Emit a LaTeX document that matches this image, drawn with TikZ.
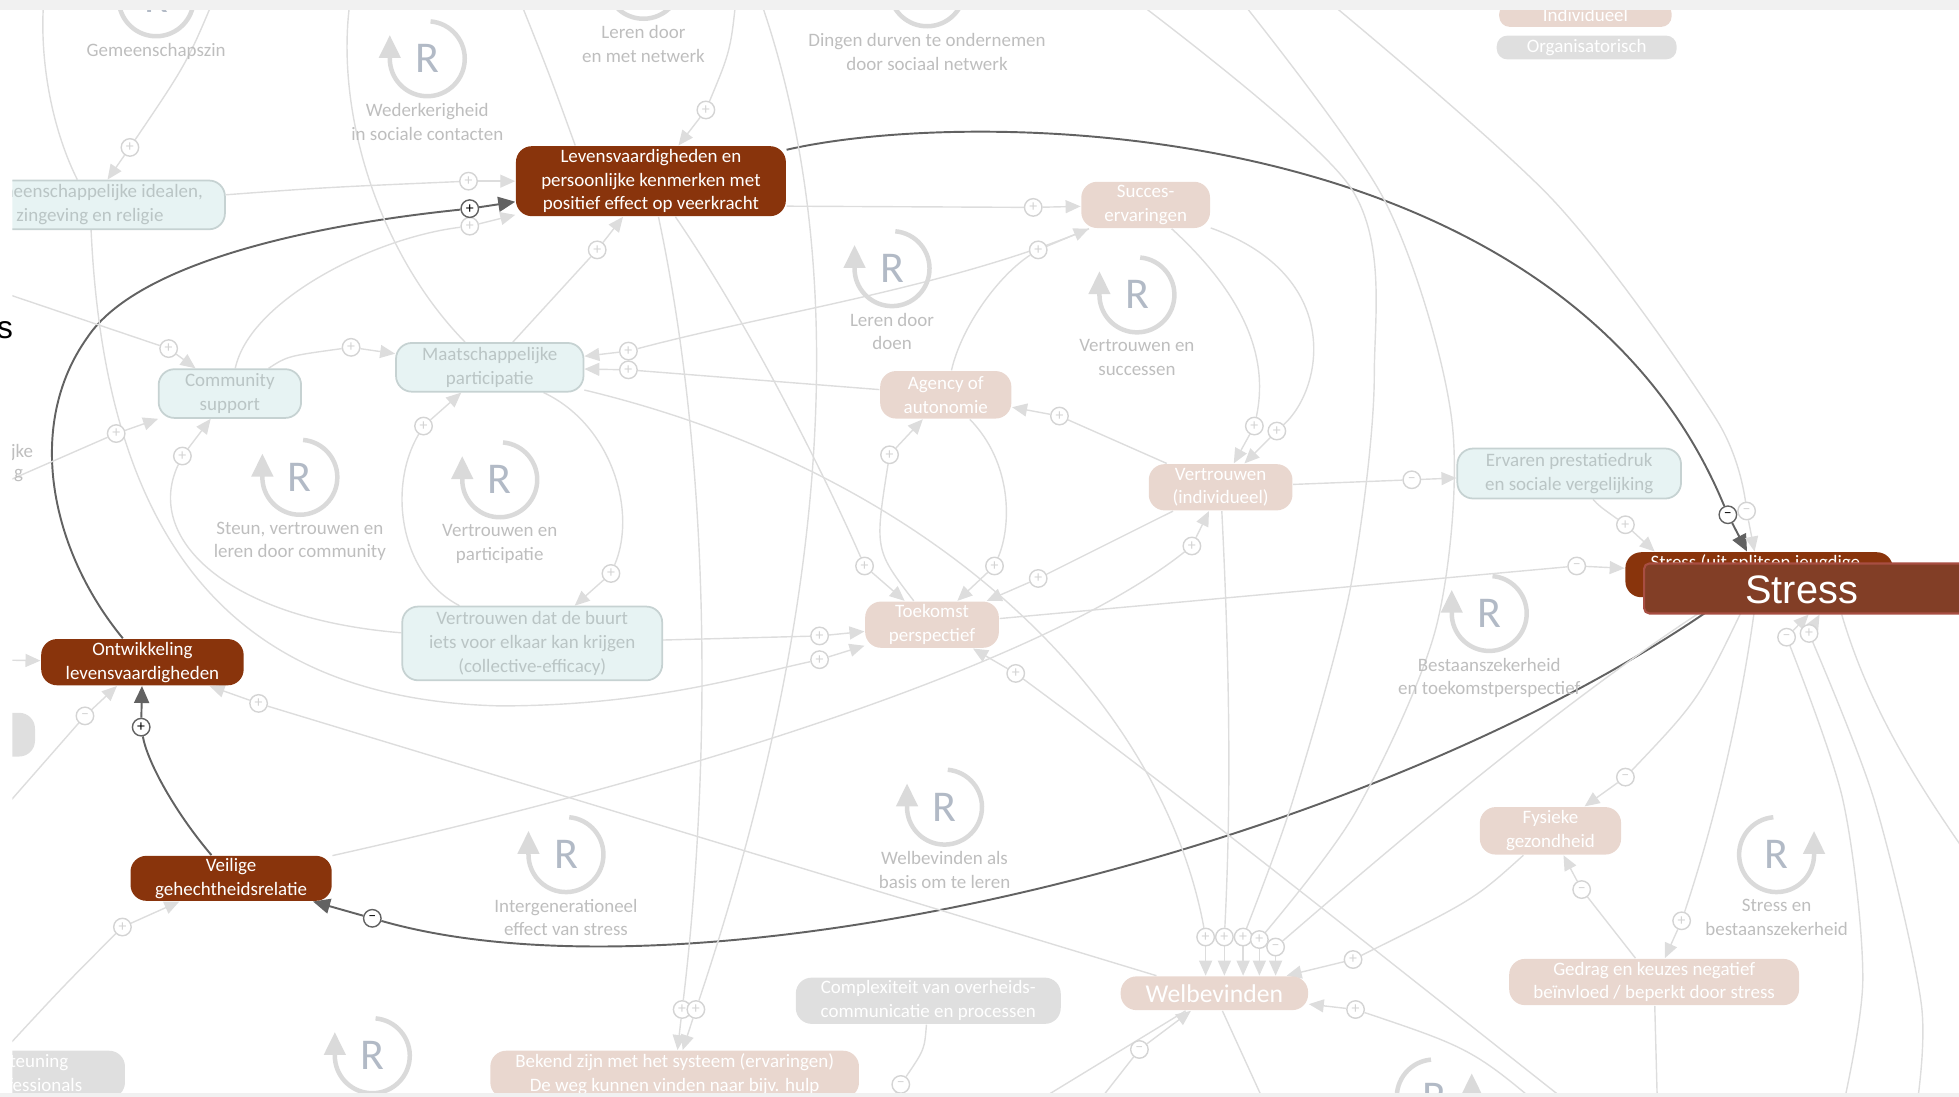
\documentclass[tikz,border=0pt]{standalone}
\usepackage{fontspec}
\setmainfont{Carlito}
\newfontfamily\stressfont{Liberation Sans}
\usetikzlibrary{arrows.meta}

\definecolor{kern}{RGB}{137,52,12}
\definecolor{stressvak}{RGB}{130,62,38}
\definecolor{stressrand}{RGB}{168,78,66}
\definecolor{indiv}{RGB}{233,215,207}
\definecolor{gemfill}{RGB}{231,243,243}
\definecolor{gemrand}{RGB}{198,210,210}
\definecolor{gemtekst}{RGB}{186,197,197}
\definecolor{orgfill}{RGB}{223,223,223}
\definecolor{lijn}{RGB}{221,221,221}
\definecolor{polrand}{RGB}{212,212,212}
\definecolor{donker}{RGB}{98,98,98}
\definecolor{lus}{RGB}{218,218,218}
\definecolor{lusR}{RGB}{178,186,198}
\definecolor{lustekst}{RGB}{190,190,190}
\definecolor{balk}{RGB}{241,241,241}

\pgfdeclarelayer{achter}
\pgfsetlayers{achter,main}

\tikzset{
  basis/.style={rounded corners=4.5pt, inner sep=0pt, align=center, font=\fontsize{5.4}{6.76}\selectfont},
  kernnode/.style={basis, fill=kern, text=white},
  indivnode/.style={basis, fill=indiv, text=white},
  gemnode/.style={basis, fill=gemfill, draw=gemrand, line width=0.5pt, text=gemtekst},
  orgnode/.style={basis, fill=orgfill, text=white},
  pool/.style={circle, draw=polrand, fill=white, line width=0.4pt, inner sep=0pt, minimum size=0.175cm, text=polrand, font=\fontsize{4.5}{4.5}\selectfont},
  pooldonker/.style={pool, draw=donker, text=black},
  verband/.style={draw=lijn, line width=0.4pt},
  verbandpijl/.style={verband, -{Triangle[length=0.15cm, width=0.13cm]}},
  verbanddonker/.style={draw=donker, line width=0.55pt},
  pijldonker/.style={verbanddonker, -{Triangle[length=0.17cm, width=0.15cm]}},
  lusring/.style={draw=lus, line width=0.045cm, -{Triangle[length=0.23cm, width=0.21cm]}},
  lusletter/.style={text=lusR, font=\fontsize{12.5}{12.5}\selectfont, inner sep=0pt},
  luslabel/.style={text=lustekst, align=center, inner sep=0pt, font=\fontsize{5.4}{6.76}\selectfont}
}

\begin{document}
\begin{tikzpicture}[x=0.0125cm, y=-0.0125cm]
\useasboundingbox (0,0) rectangle (1568,878);

\begin{scope}
\clip (10,8) rectangle (1568,875);

% R-lussen
\foreach \x/\y/\naam in {125/-1/{Gemeenschapszin}, 342/47/{Wederkerigheid\\in sociale contacten},
    515/-15/{Leren door\\en met netwerk}, 742/-9/{Dingen durven te ondernemen\\door sociaal netwerk},
    714/215/{Leren door\\doen}, 910/236/{Vertrouwen en\\successen},
    240/382/{Steun, vertrouwen en\\leren door community}, 400/384/{Vertrouwen en\\participatie},
    1192/491/{Bestaanszekerheid\\en toekomstperspectief}, 756/646/{Welbevinden als\\basis om te leren},
    453/684/{Intergenerationeel\\effect van stress}, 298/845/{}}{
  \draw[lusring] (\x,\y) ++(-85:30) arc[start angle=-85, end angle=180, radius=30] -- ++(0,-19);
  \node[lusletter] (R-\x) at (\x,\y) {R};
  \node[luslabel, anchor=north] (RL-\x) at (\x,\y+35) {\naam};
}
\foreach \x/\y/\naam in {1422/684/{Stress en\\bestaanszekerheid}, 1148/878/{}}{
  \draw[lusring] (\x,\y) ++(-95:30) arc[start angle=-95, end angle=-360, radius=30] -- ++(0,-19);
  \node[lusletter] (R-\x) at (\x,\y) {R};
  \node[luslabel, anchor=north] (RL-\x) at (\x,\y+35) {\naam};
}

% factoren
\node[kernnode, minimum width=2.7cm, minimum height=0.7cm] (lev) at (521,145) {Levensvaardigheden en\\persoonlijke kenmerken met\\positief effect op veerkracht};
\node[kernnode, minimum width=2.025cm, minimum height=0.4625cm] (ontw) at (114,530) {Ontwikkeling\\levensvaardigheden};
\node[kernnode, minimum width=2.0125cm, minimum height=0.45cm] (veilig) at (185,703) {Veilige\\gehechtheidsrelatie};

\node[indivnode, rounded corners=3pt, minimum width=1.725cm, minimum height=0.2375cm] (indiv) at (1269,12) {Individueel};
\node[orgnode, rounded corners=3pt, minimum width=1.8cm, minimum height=0.2375cm] (org) at (1270,38) {Organisatorisch};
\node[indivnode, minimum width=1.2875cm, minimum height=0.4625cm] (succes) at (917,164) {Succes-\\ervaringen};
\node[indivnode, minimum width=1.3125cm, minimum height=0.475cm] (agency) at (757,316) {Agency of\\autonomie};
\node[indivnode, minimum width=1.4375cm, minimum height=0.4625cm] (vertrouwen) at (977,390) {Vertrouwen\\(individueel)};
\node[indivnode, minimum width=1.3375cm, minimum height=0.4625cm] (toekomst) at (746,500) {Toekomst\\perspectief};
\node[indivnode, minimum width=1.4125cm, minimum height=0.475cm] (fysiek) at (1241,665) {Fysieke\\gezondheid};
\node[indivnode, minimum width=2.9cm, minimum height=0.4625cm] (gedrag) at (1324,786) {Gedrag en keuzes negatief\\beïnvloed / beperkt door stress};
\node[indivnode, minimum width=1.875cm, minimum height=0.3375cm, font=\fontsize{7.3}{8}\selectfont] (welb) at (972,795) {Welbevinden};
\node[indivnode, minimum width=3.6875cm, minimum height=0.475cm] (bekend) at (540,860) {Bekend zijn met het systeem (ervaringen)\\De weg kunnen vinden naar bijv. hulp};

\node[orgnode, minimum width=2.65cm, minimum height=0.4625cm] (complex) at (743,801) {Complexiteit van overheids-\\communicatie en processen};
\node[orgnode, minimum width=2.275cm, minimum height=0.475cm] (onderst) at (9,860) {Ondersteuning\\door professionals};
\node[orgnode, minimum width=1.7cm, minimum height=0.4375cm] (grijsLinks) at (-40,588) {};

\node[gemnode, minimum width=2.7cm, minimum height=0.4875cm] (gem) at (72,164) {Gemeenschappelijke idealen,\\zingeving en religie};
\node[gemnode, minimum width=1.425cm, minimum height=0.4875cm] (community) at (184,315) {Community\\support};
\node[gemnode, minimum width=1.875cm, minimum height=0.4875cm] (maatsch) at (392,294) {Maatschappelijke\\participatie};
\node[gemnode, minimum width=2.6cm, minimum height=0.7375cm] (buurt) at (426,515) {Vertrouwen dat de buurt\\iets voor elkaar kan krijgen\\(collective-efficacy)};
\node[gemnode, minimum width=2.2375cm, minimum height=0.5cm] (ervaren) at (1256,379) {Ervaren prestatiedruk\\en sociale vergelijking};

\node[luslabel, anchor=east] (restA) at (27,362) {jke};
\node[luslabel, anchor=east] (restB) at (19,381) {g};

% polariteiten
\node[pool] (p05) at (375,145) {+};
\node[pool] (p06) at (376,181) {+};
\node[pool] (p07) at (565,88) {+};
\node[pool] (p08) at (478,200) {+};
\node[pool] (p09) at (104,118) {+};
\node[pool] (p10) at (135,279) {+};
\node[pool] (p11) at (281,278) {+};
\node[pool] (p12) at (93,347) {+};
\node[pool] (p13) at (146,365) {+};
\node[pool] (p14) at (339,341) {+};
\node[pool] (p15) at (489,459) {+};
\node[pool] (p16) at (503,281) {+};
\node[pool] (p17) at (503,296) {+};
\node[pool] (p18) at (827,166) {+};
\node[pool] (p19) at (831,200) {+};
\node[pool] (p20) at (712,364) {+};
\node[pool] (p21) at (848,333) {+};
\node[pool] (p22) at (692,453) {+};
\node[pool] (p23) at (796,453) {+};
\node[pool] (p24) at (831,463) {+};
\node[pool] (p25) at (656,509) {+};
\node[pool] (p26) at (656,528) {+};
\node[pool] (p27) at (813,539) {+};
\node[pool] (p28) at (954,437) {+};
\node[pool] (p29) at (1004,341) {+};
\node[pool] (p30) at (1022,345) {+};
\node[pool] (p31) at (1130,384) {–};
\node[pool] (p32) at (1301,420) {+};
\node[pool] (p33) at (1398,409) {–};
\node[pool] (p34) at (1262,453) {–};
\node[pool] (p35) at (1430,510) {–};
\node[pool] (p36) at (1448,507) {+};
\node[pool] (p37) at (1301,622) {–};
\node[pool] (p38) at (1266,712) {–};
\node[pool] (p39) at (1346,737) {+};
\node[pool] (p40) at (1083,768) {+};
\node[pool] (p41) at (1085,808) {+};
\node[pool] (p42) at (965,750) {+};
\node[pool] (p43) at (980,750) {+};
\node[pool] (p44) at (995,750) {+};
\node[pool] (p45) at (1008,752) {+};
\node[pool] (p46) at (1021,758) {–};
\node[pool] (p47) at (912,840) {–};
\node[pool] (p48) at (207,563) {+};
\node[pool] (p49) at (68,573) {–};
\node[pool] (p50) at (98,742) {+};
\node[pool] (p51) at (546,808) {+};
\node[pool] (p52) at (557,808) {+};
\node[pool] (p53) at (721,868) {–};
\node[pooldonker] (p01) at (376,167) {+};
\node[pooldonker] (p02) at (113,582) {+};
\node[pooldonker] (p03) at (298,735) {–};
\node[pooldonker] (p04) at (1383,412) {–};

% stress
\node[kernnode, minimum width=2.675cm, minimum height=0.45cm] (stressKern) at (1408,460) {};
\node[text=white, inner sep=0pt, font=\fontsize{5.4}{6.76}\selectfont] (stressKernTekst) at (1405,451) {Stress (uit splitsen jeugdige};
\node[draw=stressrand, fill=stressvak, line width=0.6pt, rounded corners=1.5pt, inner sep=0pt, minimum width=3.8cm, minimum height=0.5cm] (stress) at (1468,471) {};
\node[text=white, inner sep=0pt, font=\stressfont\fontsize{11.3}{12}\selectfont] (stressTekst) at (1442,472) {Stress};
\end{scope}

% eindpunten buiten beeld
\coordinate (tGem) at (36,-10);
\coordinate (tGemIn) at (175,-10);
\coordinate (tMaat) at (282,-10);
\coordinate (tLev) at (412,-10);
\coordinate (tNetwerk) at (590,-10);
\coordinate (tBekend) at (605,-10);
\coordinate (tBoog) at (895,-10);
\coordinate (tWelbA) at (985,-10);
\coordinate (tStressA) at (1050,-10);
\coordinate (lCommA) at (-10,230);
\coordinate (lCommB) at (-10,392);
\coordinate (lOntwA) at (-20,528);
\coordinate (lOntwB) at (-10,662);
\coordinate (lVeilig) at (-10,855);
\coordinate (bWelbA) at (865,900);
\coordinate (bWelbB) at (1250,900);
\coordinate (bWelbC) at (800,900);
\coordinate (bWelbD) at (1020,900);
\coordinate (bComplex) at (705,895);
\coordinate (bGedrag) at (1327,900);
\coordinate (bStressA) at (1472,900);
\coordinate (bStressB) at (1532,900);
\coordinate (rStress) at (1600,720);
\coordinate (tToekomst) at (1290,910);

\begin{pgfonlayer}{achter}
\begin{scope}
\clip (10,8) rectangle (1568,875);
% donkere lus
\draw[verbanddonker] (ontw) .. controls (40,440) and (20,340) .. (70,270) .. controls (110,210) and (250,180) .. (p01);
\draw[pijldonker] (p01) -- (lev);
\draw[verbanddonker] (veilig) .. controls (140,650) and (118,610) .. (p02);
\draw[pijldonker] (p02) -- (ontw);
\draw[verbanddonker] (stressKern) .. controls (1100,680) and (560,810) .. (p03);
\draw[pijldonker] (p03) -- (veilig);
\draw[verbanddonker] (lev) .. controls (780,85) and (1250,90) .. (p04);
\draw[pijldonker] (p04) -- (stressKern);

% overige verbanden
\draw[verband] (gem) .. controls (260,150) .. (p05);
\draw[verbandpijl] (p05) -- (lev);
\draw[verband] (community) .. controls (200,240) and (300,190) .. (p06);
\draw[verbandpijl] (p06) -- (lev);
\draw[verband] (tNetwerk) .. controls (585,40) .. (p07);
\draw[verbandpijl] (p07) -- (lev);
\draw[verband] (maatsch) -- (p08);
\draw[verbandpijl] (p08) -- (lev);
\draw[verband] (tGemIn) .. controls (150,50) .. (p09);
\draw[verbandpijl] (p09) -- (gem);
\draw[verband] (gem) .. controls (40,100) and (30,40) .. (tGem);
\draw[verband] (lCommA) -- (p10);
\draw[verbandpijl] (p10) -- (community);
\draw[verband] (community) .. controls (230,285) .. (p11);
\draw[verbandpijl] (p11) -- (maatsch);
\draw[verband] (lCommB) -- (p12);
\draw[verbandpijl] (p12) -- (community);
\draw[verband] (buurt) .. controls (180,495) and (115,430) .. (p13);
\draw[verbandpijl] (p13) -- (community);
\draw[verband] (buurt) .. controls (320,460) and (310,390) .. (p14);
\draw[verbandpijl] (p14) -- (maatsch);
\draw[verband] (maatsch) .. controls (490,340) and (510,410) .. (p15);
\draw[verbandpijl] (p15) -- (buurt);
\draw[verband] (succes) .. controls (760,230) and (620,250) .. (p16);
\draw[verbandpijl] (p16) -- (maatsch);
\draw[verband] (agency) -- (p17);
\draw[verbandpijl] (p17) -- (maatsch);
\draw[verband] ([yshift=-0.25cm]lev.east) -- (p18);
\draw[verbandpijl] (p18) -- (succes);
\draw[verband] (agency) .. controls (770,260) and (800,220) .. (p19);
\draw[verbandpijl] (p19) -- (succes);
\draw[verband] (toekomst) .. controls (700,440) .. (p20);
\draw[verbandpijl] (p20) -- (agency);
\draw[verband] (vertrouwen) -- (p21);
\draw[verbandpijl] (p21) -- (agency);
\draw[verband] (lev) .. controls (600,260) and (660,380) .. (p22);
\draw[verbandpijl] (p22) -- (toekomst);
\draw[verband] (agency) .. controls (810,370) and (810,420) .. (p23);
\draw[verbandpijl] (p23) -- (toekomst);
\draw[verband] (vertrouwen) -- (p24);
\draw[verbandpijl] (p24) -- (toekomst);
\draw[verband] (buurt) -- (p25);
\draw[verbandpijl] (p25) -- (toekomst);
\draw[verband] (gem) .. controls (85,450) and (200,560) .. (400,565) .. controls (520,565) and (600,540) .. (p26);
\draw[verbandpijl] (p26) -- (toekomst);
\draw[verband] (tToekomst) .. controls (1100,760) and (950,640) .. (p27);
\draw[verbandpijl] (p27) -- (toekomst);
\draw[verband] (veilig) .. controls (600,610) and (850,520) .. (p28);
\draw[verbandpijl] (p28) -- (vertrouwen);
\draw[verband] (succes) .. controls (1000,240) and (1015,290) .. (p29);
\draw[verbandpijl] (p29) -- (vertrouwen);
\draw[verband] (succes) .. controls (1075,220) and (1060,310) .. (p30);
\draw[verbandpijl] (p30) -- (vertrouwen);
\draw[verband] (vertrouwen) -- (p31);
\draw[verbandpijl] (p31) -- (ervaren);
\draw[verband] (ervaren) .. controls (1280,405) .. (p32);
\draw[verbandpijl] (p32) -- ([xshift=0.3cm]stressKern.north west);
\draw[verband] plot[smooth] coordinates {(tStressA) (1243,160) (1374,336) (p33)};
\draw[verbandpijl] (p33) -- (stressKern);
\draw[verband] (toekomst) -- (p34);
\draw[verbandpijl] (p34) -- (stressKern);
\draw[verband] plot[smooth] coordinates {(bStressA) (1491,785) (1475,640) (p35)};
\draw[verbandpijl] (p35) -- (stress);
\draw[verband] plot[smooth] coordinates {(bStressB) (1538,805) (1500,640) (p36)};
\draw[verbandpijl] (p36) -- (stress);
\draw[verband] (stress) .. controls (1500,580) and (1550,650) .. (rStress);
\draw[verband] (stressKern) .. controls (1360,560) .. (p37);
\draw[verbandpijl] (p37) -- (fysiek);
\draw[verband] (stressKern) .. controls (1395,560) and (1375,650) .. (p39);
\draw[verbandpijl] (p39) -- (gedrag);
\draw[verband] (gedrag) -- (p38);
\draw[verbandpijl] (p38) -- (fysiek);
\draw[verband] (fysiek) .. controls (1180,720) .. (p40);
\draw[verbandpijl] (p40) -- (welb);
\draw[verband] (bWelbB) .. controls (1180,840) .. (p41);
\draw[verbandpijl] (p41) -- (welb);
\draw[verband] (maatsch) .. controls (750,380) and (930,560) .. (p42);
\draw[verband] (vertrouwen) .. controls (985,550) and (985,650) .. (p43);
\draw[verband] plot[smooth] coordinates {(tBoog) (1081,150) (1100,300) (1081,470) (1035,640) (p44)};
\draw[verband] plot[smooth] coordinates {(tWelbA) (1108,160) (1162,336) (1150,500) (1085,650) (p45)};
\draw[verband] (stressKern) .. controls (1250,560) and (1100,690) .. (p46);
\foreach \p in {p42,p43,p44,p45,p46}
  \draw[verbandpijl] (\p) -- (\p |- welb.north);
\draw[verband] (bWelbA) -- (p47);
\draw[verbandpijl] (p47) -- (welb);
\draw[verband] (welb) -- (p48);
\draw[verbandpijl] (p48) -- (ontw);
\draw[verband] (lOntwB) -- (p49);
\draw[verbandpijl] (p49) -- (ontw);
\draw[verbandpijl] (lOntwA) -- (ontw);
\draw[verband] (lVeilig) .. controls (50,790) .. (p50);
\draw[verbandpijl] (p50) -- (veilig);
\draw[verband] (lev) .. controls (575,400) and (565,650) .. (p51);
\draw[verbandpijl] (p51) -- (bekend);
\draw[verband] (tBekend) .. controls (700,250) and (640,560) .. (p52);
\draw[verbandpijl] (p52) -- (bekend);
\draw[verband] (complex) .. controls (740,840) .. (p53);
\draw[verbandpijl] (p53) -- (bComplex);
\draw[verband] (welb) -- (bWelbC);
\draw[verband] (welb) -- (bWelbD);
\draw[verband] (gedrag) -- (bGedrag);
\draw[verband] (maatsch) .. controls (300,200) and (265,80) .. (tMaat);
\draw[verband] ([xshift=0.6cm]lev.north west) .. controls (440,60) .. (tLev);
\end{scope}
\end{pgfonlayer}

% randen van het venster
\fill[balk] (0,0) rectangle (1568,8);
\fill[balk] (0,875) rectangle (1568,878);
\node[text=black, inner sep=0pt, font=\stressfont\fontsize{9}{9}\selectfont] (restS) at (4,264) {s};
\end{tikzpicture}
\end{document}
